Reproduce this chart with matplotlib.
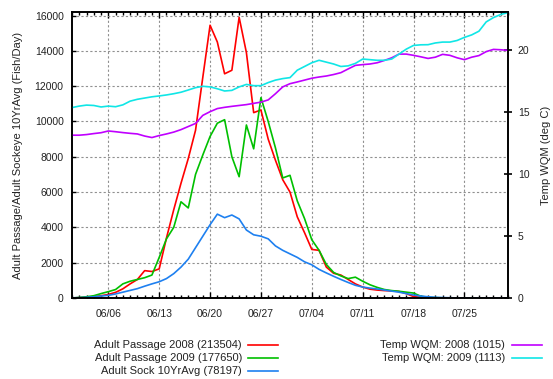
import matplotlib
matplotlib.use('Agg')
import matplotlib.pyplot as plt
import matplotlib.dates as mdates
from matplotlib.lines import Line2D
from matplotlib.ticker import FixedLocator
import pandas as pd

plt.rcParams['font.family'] = ['Liberation Sans', 'DejaVu Sans']

# daily values, 06/01 .. 07/31
days = pd.date_range('2009-06-01', '2009-07-31', freq='D')

passage_2008 = [0, 20, 40, 70, 130, 200, 320, 520, 800, 1050,
                1550, 1500, 1650, 3400, 5000, 6500, 7900, 9500, 12500, 15450,
                14500, 12700, 12900, 15900, 13900, 10500, 10650, 9000, 7800, 6700,
                6000, 4600, 3700, 2750, 2700, 1750, 1400, 1300, 1050, 800,
                620, 500, 450, 420, 400, 370, 250, 80, 40, 20,
                10, 5, 5, 0, 0, 0, 0, 0, 0, 0, 0]
passage_2009 = [0, 30, 70, 130, 250, 360, 480, 800, 950, 1050,
                1150, 1300, 2300, 3350, 4000, 5450, 5100, 7000, 8100, 9150,
                9900, 10100, 8000, 6870, 9800, 8450, 11350, 10000, 8500, 6800,
                6950, 5500, 4500, 3300, 2700, 1900, 1450, 1250, 1100, 1180,
                950, 750, 600, 480, 420, 380, 330, 280, 100, 40,
                20, 10, 5, 0, 0, 0, 0, 0, 0, 0, 0]
sock_10yr = [10, 20, 40, 70, 110, 150, 230, 330, 430, 530,
             670, 800, 920, 1100, 1380, 1750, 2200, 2850, 3500, 4150,
             4750, 4550, 4700, 4480, 3850, 3580, 3500, 3350, 2950, 2700,
             2500, 2300, 2050, 1880, 1620, 1420, 1230, 1050, 880, 720,
             620, 560, 510, 450, 390, 330, 250, 170, 110, 70,
             40, 25, 15, 5, 5, 5, 5, 5, 5, 5, 5]
temp_2008 = [13.15, 13.15, 13.2, 13.28, 13.35, 13.49, 13.43, 13.36, 13.3, 13.25,
             13.08, 12.96, 13.12, 13.25, 13.4, 13.6, 13.85, 14.1, 14.75, 15.05,
             15.3, 15.4, 15.48, 15.55, 15.62, 15.72, 15.82, 16.0, 16.5, 17.05,
             17.31, 17.45, 17.6, 17.75, 17.85, 17.93, 18.05, 18.2, 18.5, 18.79,
             18.85, 18.9, 19.0, 19.19, 19.4, 19.7, 19.7, 19.6, 19.48, 19.35,
             19.45, 19.68, 19.6, 19.4, 19.25, 19.45, 19.58, 19.9, 20.08, 20.05, 20.0]
temp_2009 = [15.38, 15.5, 15.58, 15.55, 15.43, 15.5, 15.45, 15.6, 15.9, 16.05,
             16.15, 16.25, 16.32, 16.4, 16.5, 16.62, 16.8, 16.99, 17.1, 17.05,
             16.9, 16.72, 16.77, 17.05, 17.25, 17.15, 17.15, 17.4, 17.6, 17.72,
             17.8, 18.4, 18.7, 19.0, 19.2, 19.05, 18.9, 18.7, 18.75, 18.95,
             19.3, 19.25, 19.2, 19.2, 19.3, 19.7, 20.1, 20.4, 20.45, 20.46,
             20.6, 20.67, 20.67, 20.8, 21.05, 21.25, 21.55, 22.3, 22.65, 22.9, 23.05]

tick_dates = ['2009-06-06', '2009-06-13', '2009-06-20', '2009-06-27',
              '2009-07-04', '2009-07-11', '2009-07-18', '2009-07-25']
tick_labels = ['06/06', '06/13', '06/20', '06/27', '07/04', '07/11', '07/18', '07/25']

left_labels = ['Adult Passage 2008 (213504)', 'Adult Passage 2009 (177650)',
               'Adult Sock 10YrAvg (78197)']
right_labels = ['Temp WQM: 2008 (1015)', 'Temp WQM: 2009 (1113)']

c_red, c_green, c_blue = '#ff0000', '#00c000', '#1e80f0'
c_purple, c_cyan = '#c000ff', '#10e6e6'
txt = '#222222'
W, H = 553, 379

fig = plt.figure(figsize=(W / 100, H / 100), dpi=100)
ax = fig.add_axes([72 / W, 81 / H, 436 / W, 286 / H])
ax2 = ax.twinx()

ax.plot(days, passage_2008, color=c_red, lw=1.2)
ax.plot(days, passage_2009, color=c_green, lw=1.2)
ax.plot(days, sock_10yr, color=c_blue, lw=1.2)
ax2.plot(days, temp_2008, color=c_purple, lw=1.2)
ax2.plot(days, temp_2009, color=c_cyan, lw=1.2)

ax.set_xlim(days[0], days[-1])
ax.set_ylim(0, 16200)
ax2.set_ylim(0, 23.1)

ax.xaxis.set_major_locator(FixedLocator(mdates.date2num(pd.to_datetime(tick_dates))))
ax.set_xticklabels(tick_labels)
ax.xaxis.set_minor_locator(mdates.DayLocator())
ax.set_yticks(range(0, 16001, 2000))
ax2.set_yticks([0, 5, 10, 15, 20])

ax.tick_params(axis='x', which='major', direction='in', top=True, length=4,
               width=1, pad=8, labelsize=7.5, labelcolor=txt)
ax.tick_params(axis='x', which='minor', direction='in', top=True, length=2.5, width=1)
ax.tick_params(axis='y', direction='in', length=3, width=1, pad=6,
               labelsize=7.5, labelcolor=txt)
ax2.tick_params(axis='y', direction='inout', length=6, width=1.2, pad=4,
                labelsize=7.5, labelcolor=txt)

ax.grid(True, color='#909090', linestyle=(0, (2, 2)), linewidth=0.8)
for a in (ax, ax2):
    for s in a.spines.values():
        s.set_linewidth(1.2)

ax.set_ylabel('Adult Passage/Adult Sockeye 10YrAvg (Fish/Day)', fontsize=8, color=txt)
ax.yaxis.set_label_coords(-0.112, 0.5)
ax2.set_ylabel('Temp WQM (deg C)', fontsize=8, color=txt, rotation=90)
ax2.yaxis.set_label_coords(1.076, 0.5)

# legend rows under the plot
for lab, col, y in zip(left_labels, [c_red, c_green, c_blue], [345, 358, 371]):
    fig.text(242 / W, 1 - y / H, lab, ha='right', va='center', fontsize=8, color=txt)
    fig.add_artist(Line2D([248 / W, 278 / W], [1 - y / H] * 2, color=col, lw=1.2))
for lab, col, y in zip(right_labels, [c_purple, c_cyan], [345, 358]):
    fig.text(505 / W, 1 - y / H, lab, ha='right', va='center', fontsize=8, color=txt)
    fig.add_artist(Line2D([512 / W, 542 / W], [1 - y / H] * 2, color=col, lw=1.2))

fig.savefig('out.png', dpi=100)
